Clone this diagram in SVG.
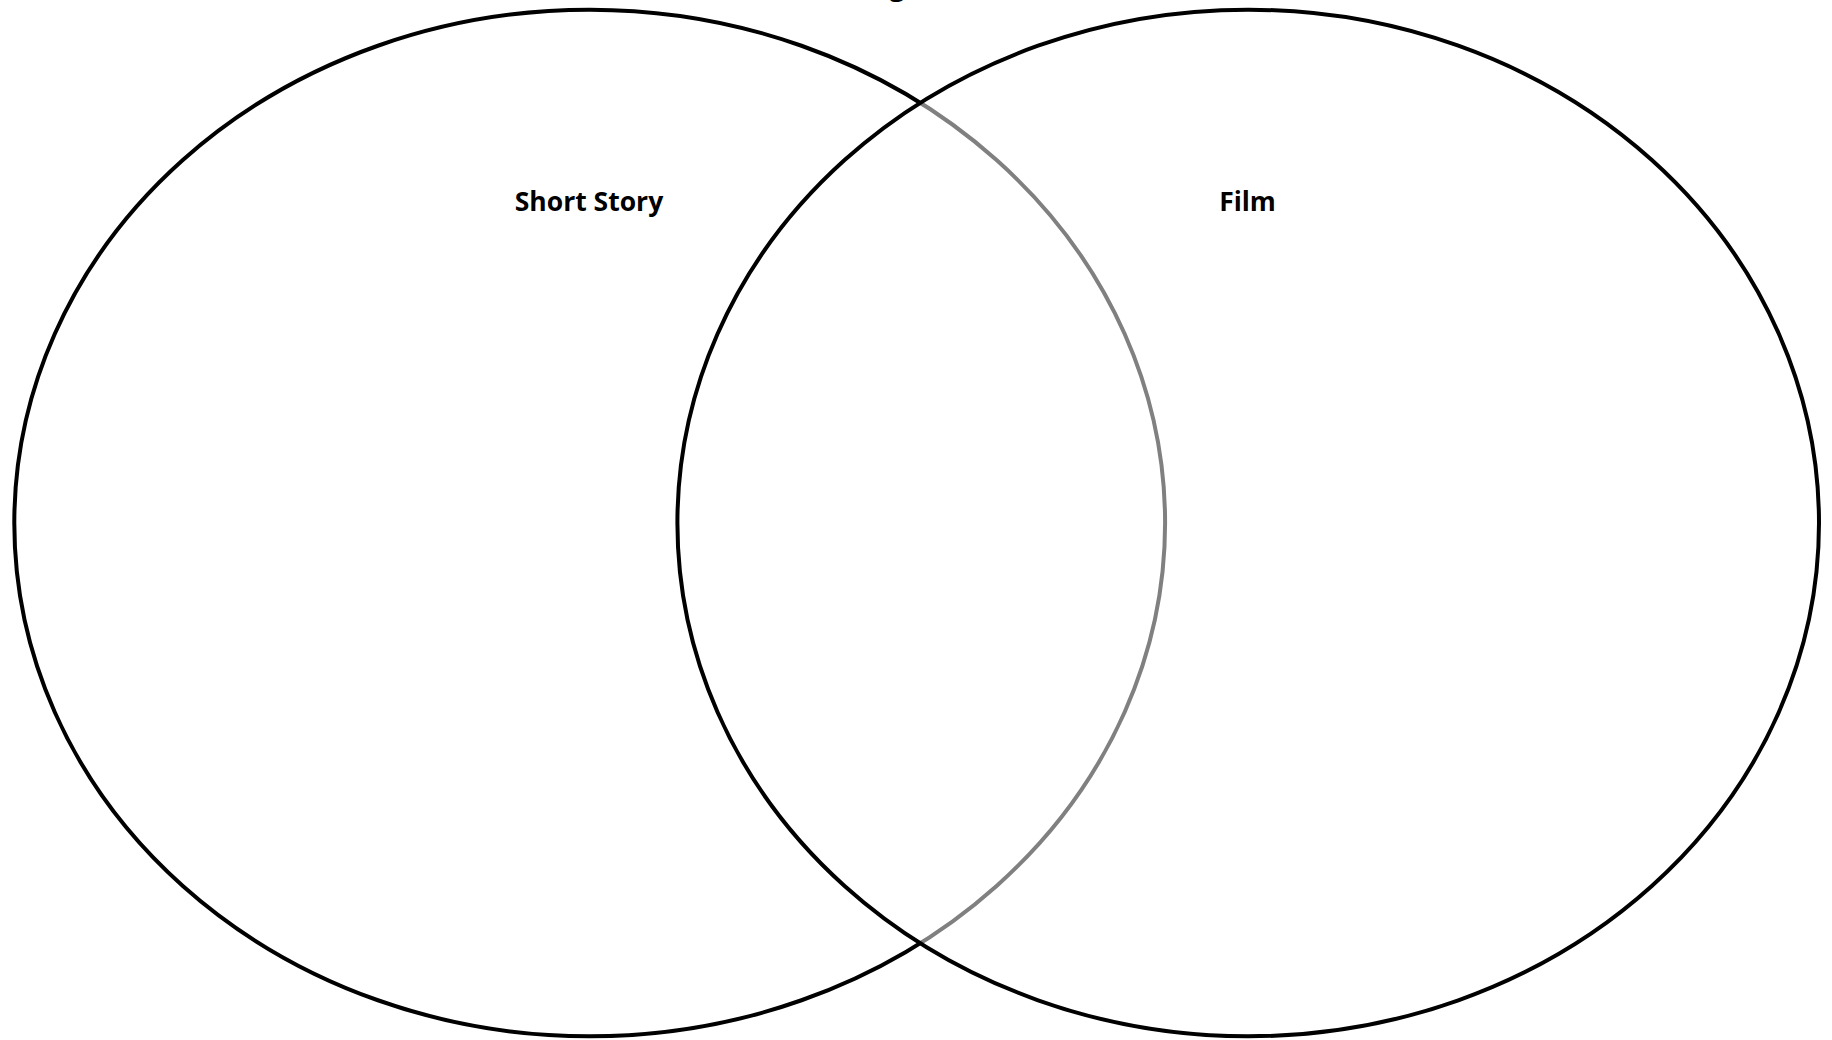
<svg xmlns="http://www.w3.org/2000/svg" width="1832" height="1040" viewBox="0 0 1832 1040">
<style>
.set{stroke:#000;stroke-width:4}
.lbl{font-family:"Open Sans","Noto Sans",sans-serif;font-weight:bold;font-size:26.5px;fill:#000;text-anchor:middle}
</style>
<rect width="1832" height="1040" fill="#fff"/>
<text class="lbl" x="897" y="-4">g</text>
<g id="short-story">
<ellipse class="set" cx="589.7" cy="523" rx="575.4" ry="513.3" fill="#fff"/>
<text class="lbl" x="589" y="211">Short Story</text>
</g>
<g id="film">
<ellipse class="set" cx="1248.2" cy="523" rx="570.8" ry="513.3" fill="#fff" fill-opacity="0.5"/>
<text class="lbl" x="1247.5" y="211">Film</text>
</g>
<g id="connectors"></g>
</svg>
